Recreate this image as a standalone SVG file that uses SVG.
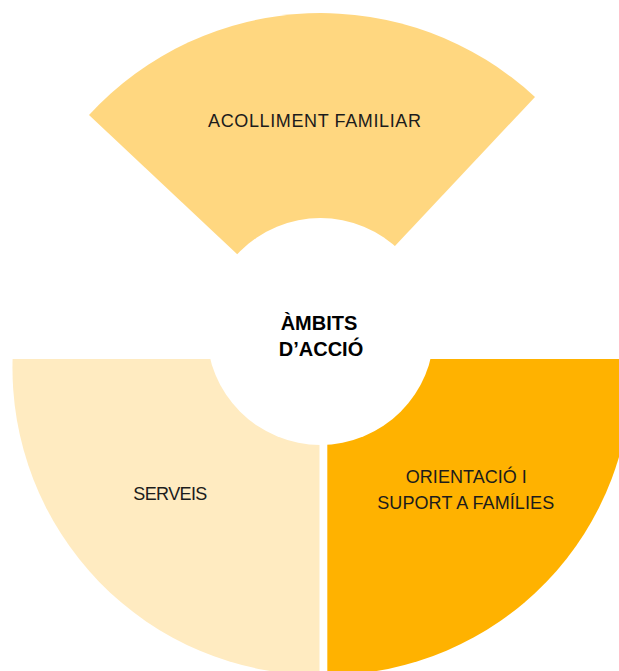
<svg xmlns="http://www.w3.org/2000/svg" width="619" height="671" viewBox="0 0 619 671">
  <style>
    .lbl { font-family: "Liberation Sans", Arial, sans-serif; font-size: 18px; fill: #1c1c1c; text-anchor: middle; }
    .ctr { font-family: "Liberation Sans", Arial, sans-serif; font-size: 20px; font-weight: bold; fill: #000000; text-anchor: middle; }
  </style>
  <rect x="0" y="0" width="619" height="671" fill="#ffffff"/>
  <g id="node-acolliment">
    <path d="M 238 255 L 89 115 A 315 315 0 0 1 535 97 L 394 247 Z" fill="#FFD780"/>
    <text class="lbl" x="314.5" y="126.7" textLength="213" lengthAdjust="spacing">ACOLLIMENT FAMILIAR</text>
  </g>
  <g id="node-serveis">
    <path d="M 319.5 359 L 12.6 359 A 307 307 0 0 0 319.5 675 Z" fill="#FFEBC1"/>
    <text class="lbl" x="170.3" y="500" textLength="74" lengthAdjust="spacing">SERVEIS</text>
  </g>
  <g id="node-orientacio">
    <path d="M 327.3 359 L 327.3 675 A 304 304 0 0 0 631.2 359 Z" fill="#FFB200"/>
    <text class="lbl" x="466.3" y="482.7" textLength="121" lengthAdjust="spacing">ORIENTACIÓ I</text>
    <text class="lbl" x="465.7" y="508.5" textLength="177" lengthAdjust="spacing">SUPORT A FAMÍLIES</text>
  </g>
  <g id="node-center">
    <circle cx="320.4" cy="331.5" r="113.5" fill="#ffffff"/>
    <text class="ctr" x="319" y="329.5">ÀMBITS</text>
    <text class="ctr" x="321" y="356">D’ACCIÓ</text>
  </g>
  <g id="connectors"></g>
</svg>
